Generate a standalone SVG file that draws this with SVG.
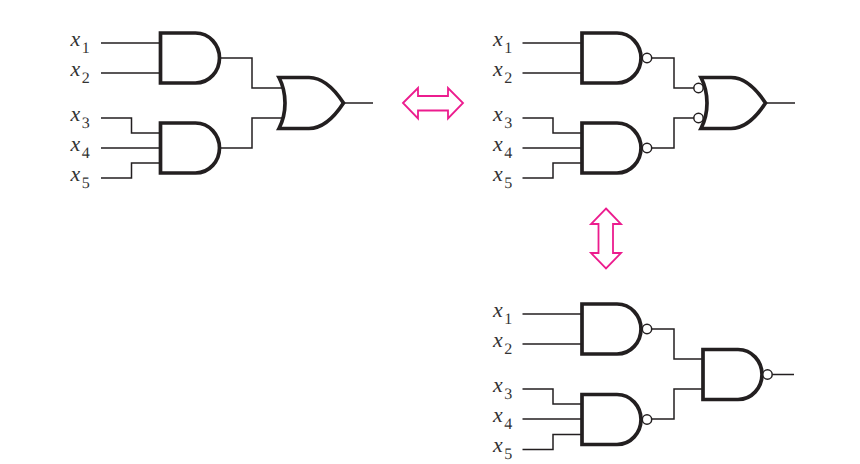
<svg xmlns="http://www.w3.org/2000/svg" width="860" height="464" viewBox="0 0 860 464">
<style>
.g{fill:#fff;stroke:#231f20;stroke-width:3.700;stroke-linejoin:miter}
.w{fill:none;stroke:#231f20;stroke-width:1.500}
.b{fill:#fff;stroke:#231f20;stroke-width:1.500}
.a{fill:#fff;stroke:#ec1c8e;stroke-width:1.800;stroke-miterlimit:8}
text{font-family:"Liberation Serif","Times New Roman",serif;font-size:22px;fill:#333;text-rendering:geometricPrecision}
.v{font-style:italic}
.s{font-size:16px}
</style>
<defs>
<path id="and" d="M0,-25 H35 C49,-25 59,-13 59,0 C59,13 49,25 35,25 H0 Z"/>
<path id="or" d="M-1,-25.500 H29 C43,-25.500 55,-13 63.500,0 C55,13 43,25.500 29,25.500 H-1 C7,10 7,-10 -1,-25.500 Z"/>
</defs>
<rect width="860" height="464" fill="#fff"/>
<g id="connectors">
<path class="w" d="M101,43H160M101,73H160M101,118H131.500V133H160M101,148H160M101,178H131.500V163H160M219,58H252V88H284M219,148H252V118H284M343,103H373"/>
<path class="w" d="M522.500,43H582M522.500,73H582M522.500,118H553V133H582M522.500,148H582M522.500,178H553V163H582M651,58H674V88H694M651,148H674V118H694M765,103H795"/>
<path class="w" d="M522.500,314H582M522.500,344H582M522.500,389H553V404H582M522.500,419H582M522.500,449.500H553V434.500H582M651,329H674V359H703M651,419H674V389H703M772,374.500H794"/>
</g>
<g id="a-and1"><use href="#and" class="g" x="160.500" y="58"/></g>
<g id="a-and2"><use href="#and" class="g" x="160.500" y="148"/></g>
<g id="a-or"><use href="#or" class="g" x="280" y="103"/></g>
<g id="b-nand1"><use href="#and" class="g" x="582" y="58"/><circle class="b" cx="647" cy="58" r="4.700"/></g>
<g id="b-nand2"><use href="#and" class="g" x="582" y="148"/><circle class="b" cx="647" cy="148" r="4.700"/></g>
<g id="b-or"><use href="#or" class="g" x="702" y="103"/><circle class="b" cx="698.500" cy="88" r="4.700"/><circle class="b" cx="698.500" cy="118" r="4.700"/></g>
<g id="c-nand1"><use href="#and" class="g" x="582" y="329"/><circle class="b" cx="647" cy="329" r="4.700"/></g>
<g id="c-nand2"><use href="#and" class="g" x="582" y="419.500"/><circle class="b" cx="647" cy="419.500" r="4.700"/></g>
<g id="c-nand3"><use href="#and" class="g" x="703" y="374.500"/><circle class="b" cx="767.500" cy="374.500" r="4.700"/></g>
<g id="arrow-h"><path class="a" d="M403,103L418,88V96H448V88L463,103L448,118.500V110.500H418V118.500Z"/></g>
<g id="arrow-v"><path class="a" d="M606,208.500L621,224H613V253H621L606,268.500L591,253H598.500V224H591Z"/></g>
<g id="a-labels">
<text x="70.500" y="46"><tspan class="v">x</tspan><tspan class="s" dx="1.500" dy="6.500">1</tspan></text>
<text x="70.500" y="76"><tspan class="v">x</tspan><tspan class="s" dx="1.500" dy="6.500">2</tspan></text>
<text x="70.500" y="121"><tspan class="v">x</tspan><tspan class="s" dx="1.500" dy="6.500">3</tspan></text>
<text x="70.500" y="151"><tspan class="v">x</tspan><tspan class="s" dx="1.500" dy="6.500">4</tspan></text>
<text x="70.500" y="181"><tspan class="v">x</tspan><tspan class="s" dx="1.500" dy="6.500">5</tspan></text>
</g>
<g id="b-labels">
<text x="493" y="46"><tspan class="v">x</tspan><tspan class="s" dx="1.500" dy="6.500">1</tspan></text>
<text x="493" y="76"><tspan class="v">x</tspan><tspan class="s" dx="1.500" dy="6.500">2</tspan></text>
<text x="493" y="121"><tspan class="v">x</tspan><tspan class="s" dx="1.500" dy="6.500">3</tspan></text>
<text x="493" y="151"><tspan class="v">x</tspan><tspan class="s" dx="1.500" dy="6.500">4</tspan></text>
<text x="493" y="181"><tspan class="v">x</tspan><tspan class="s" dx="1.500" dy="6.500">5</tspan></text>
</g>
<g id="c-labels">
<text x="493" y="317"><tspan class="v">x</tspan><tspan class="s" dx="1.500" dy="6.500">1</tspan></text>
<text x="493" y="347"><tspan class="v">x</tspan><tspan class="s" dx="1.500" dy="6.500">2</tspan></text>
<text x="493" y="392"><tspan class="v">x</tspan><tspan class="s" dx="1.500" dy="6.500">3</tspan></text>
<text x="493" y="422"><tspan class="v">x</tspan><tspan class="s" dx="1.500" dy="6.500">4</tspan></text>
<text x="493" y="452"><tspan class="v">x</tspan><tspan class="s" dx="1.500" dy="6.500">5</tspan></text>
</g>
</svg>
